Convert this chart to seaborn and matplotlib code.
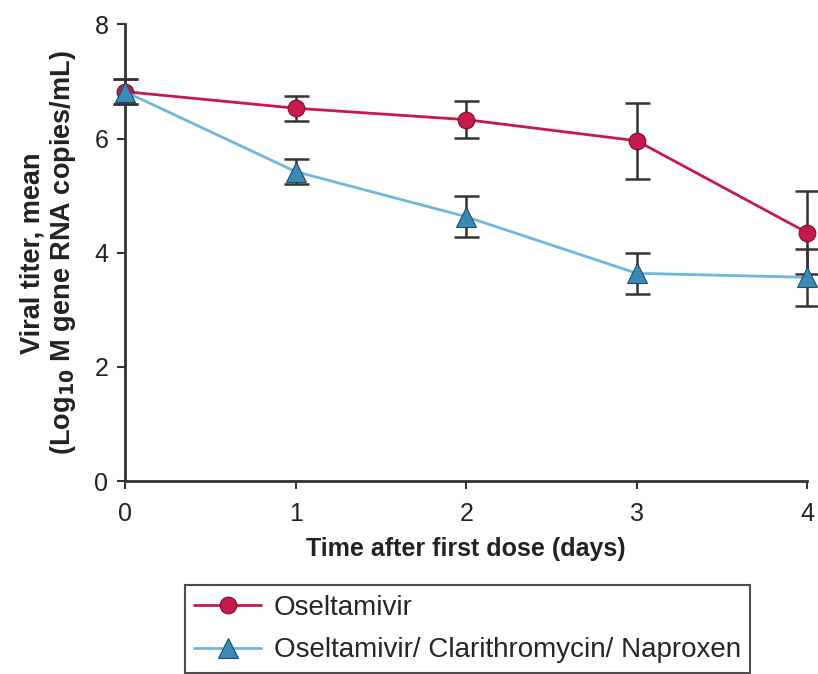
import matplotlib
matplotlib.use("Agg")
import matplotlib.pyplot as plt
import seaborn as sns
import pandas as pd
import numpy as np

days = [0, 1, 2, 3, 4]
osel_mean = [6.82, 6.53, 6.33, 5.96, 4.35]
osel_err = [0.22, 0.22, 0.32, 0.67, 0.73]
combo_mean = [6.82, 5.42, 4.63, 3.64, 3.57]
combo_err = [0.22, 0.22, 0.36, 0.36, 0.50]
series_names = ["Oseltamivir", "Oseltamivir/ Clarithromycin/ Naproxen"]

sns.set_theme(style="ticks")
plt.rcParams['font.family'] = ['Liberation Sans', 'DejaVu Sans']

red = "#c8194b"
blue_line = "#6fb8d8"
blue_marker = "#3a8ab5"
dark = "#333333"

df = pd.DataFrame({
    "day": days * 2,
    "titer": osel_mean + combo_mean,
    "group": [series_names[0]] * 5 + [series_names[1]] * 5,
})

fig = plt.figure(figsize=(8.18, 6.74), dpi=100)
ax = fig.add_axes([0.153, 0.286, 0.834, 0.678])

# error bars
for m, e in ((combo_mean, combo_err), (osel_mean, osel_err)):
    eb = ax.errorbar(days, m, yerr=e, fmt="none", ecolor=dark,
                     elinewidth=1.8, capsize=9, capthick=1.8, zorder=2)
    for art in eb.get_children():
        art.set_clip_on(False)

sns.lineplot(data=df[df.group == series_names[0]], x="day", y="titer", ax=ax,
             color=red, marker="o", markersize=12, markeredgecolor="#7a1030",
             markeredgewidth=0.8, linewidth=2, label=series_names[0], zorder=3,
             clip_on=False)
sns.lineplot(data=df[df.group == series_names[1]], x="day", y="titer", ax=ax,
             color=blue_line, marker="^", markersize=14, markerfacecolor=blue_marker,
             markeredgecolor="#1d4f6e", markeredgewidth=0.8, linewidth=2,
             label=series_names[1], zorder=4, clip_on=False)

ax.set_xlim(0, 4)
ax.set_ylim(0, 8)
ax.set_xticks([0, 1, 2, 3, 4])
ax.set_yticks([0, 2, 4, 6, 8])
ax.spines['top'].set_visible(False)
ax.spines['right'].set_visible(False)
for s in ['left', 'bottom']:
    ax.spines[s].set_color(dark)
    ax.spines[s].set_linewidth(2)
ax.tick_params(axis='both', colors=dark, labelcolor="#222222", width=1.5,
               length=6, labelsize=18)
ax.tick_params(axis='x', pad=9)
ax.tick_params(axis='y', pad=6)

ax.set_xlabel("Time after first dose (days)", fontsize=18, fontweight="bold",
              color="#222222", labelpad=8)
ax.set_ylabel("Viral titer, mean\n(Log$_{\\mathbf{10}}$ M gene RNA copies/mL)",
              fontsize=19.5, fontweight="bold", color="#222222", labelpad=12,
              linespacing=1.1)

ax.get_legend().remove()
h, l = ax.get_legend_handles_labels()
leg = fig.legend(h, l, loc="upper center", bbox_to_anchor=(0.5715, 0.132),
                 frameon=True, fancybox=False, edgecolor="#222222",
                 fontsize=20, handlelength=2.4, handletextpad=0.45,
                 borderpad=0.35, labelspacing=0.6, borderaxespad=0)
leg.get_frame().set_linewidth(1.5)

fig.savefig("out.png", dpi=100)
